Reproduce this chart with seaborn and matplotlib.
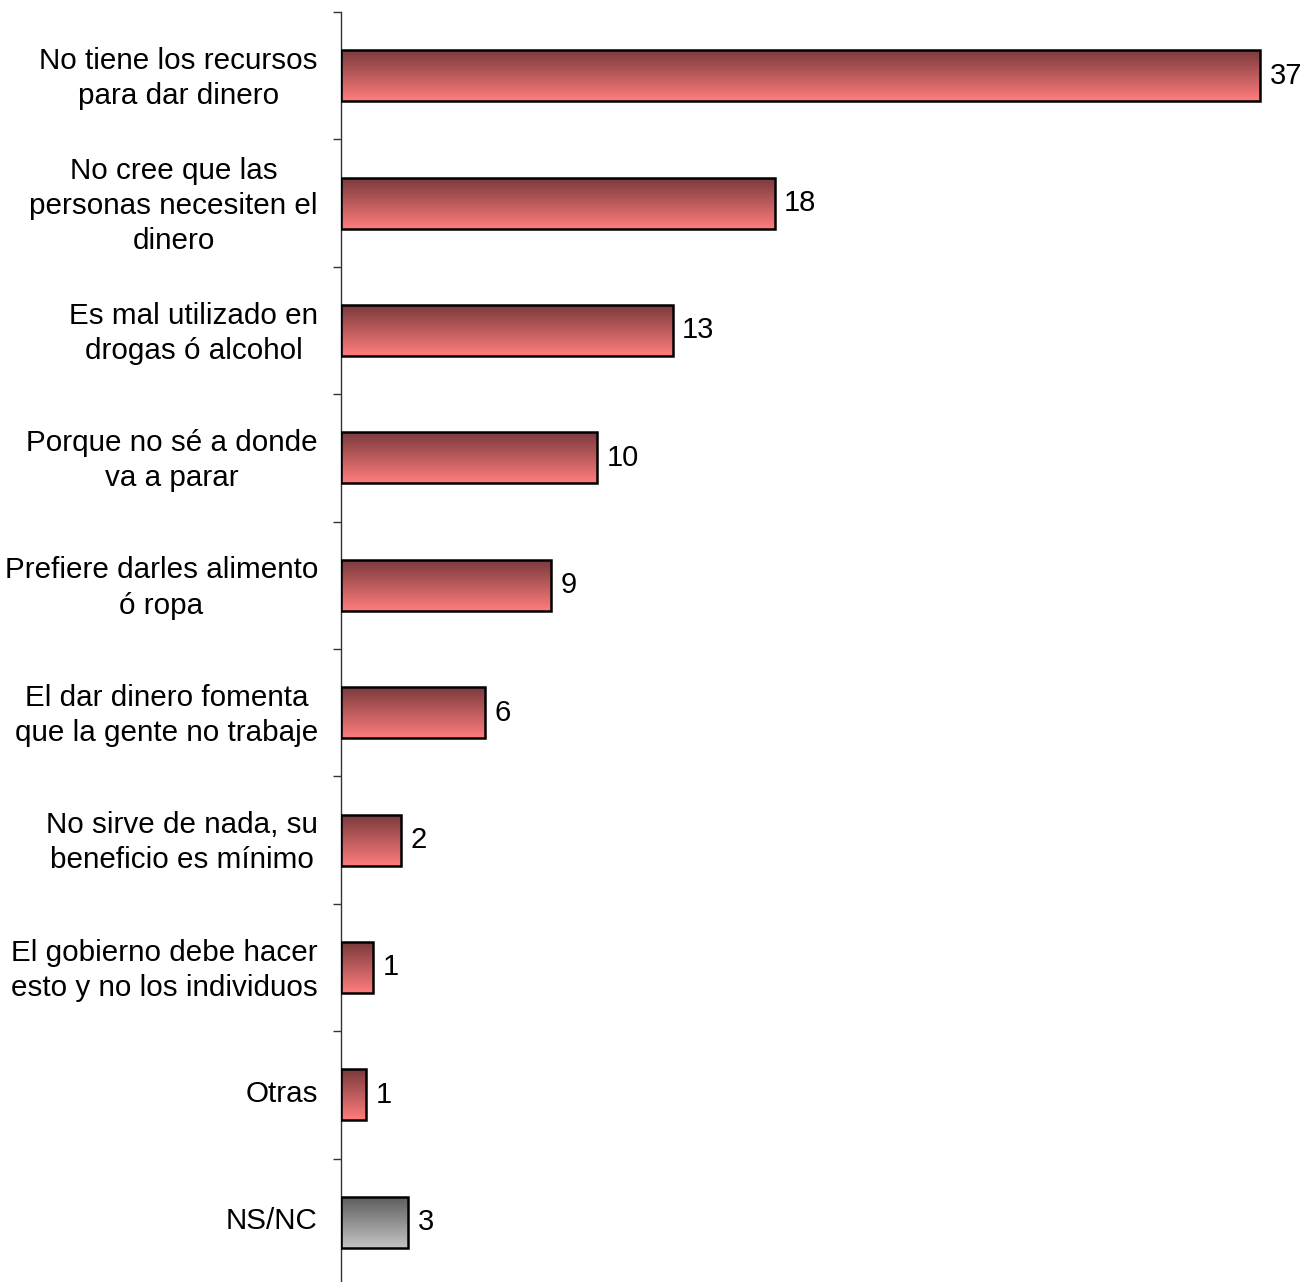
import numpy as np
import pandas as pd
import matplotlib
matplotlib.use('Agg')
import matplotlib.pyplot as plt
import seaborn as sns
from matplotlib.colors import LinearSegmentedColormap
from matplotlib.ticker import FixedLocator

# datos (porcentaje)
categorias = [
    'No tiene los recursos\npara dar dinero',
    'No cree que las\npersonas necesiten el\ndinero',
    'Es mal utilizado en\ndrogas ó alcohol',
    'Porque no sé a donde\nva a parar',
    'Prefiere darles alimento\nó ropa',
    'El dar dinero fomenta\nque la gente no trabaje',
    'No sirve de nada, su\nbeneficio es mínimo',
    'El gobierno debe hacer\nesto y no los individuos',
    'Otras',
    'NS/NC',
]
valores = [37.0, 17.45, 13.35, 10.3, 8.45, 5.8, 2.4, 1.3, 1.0, 2.7]
etiquetas = ['37', '18', '13', '10', '9', '6', '2', '1', '1', '3']
es_nsnc = [False] * 9 + [True]

df = pd.DataFrame({'cat': categorias, 'val': valores})

sns.set_style('white')
plt.rcParams['font.family'] = ['Liberation Sans', 'DejaVu Sans']

W, H = 1305, 1282
fig = plt.figure(figsize=(W / 100, H / 100), dpi=100)
# eje: x desde 341 px, cada unidad ~24.84 px; y de 12 px a 1286 px
ax = fig.add_axes([341 / W, -4 / H, 964 / W, 1274 / H])

sns.barplot(data=df, x='val', y='cat', orient='h', color='#f08080',
            width=0.4, ax=ax, edgecolor='black', linewidth=1.8)

cmap_rojo = LinearSegmentedColormap.from_list('rojo', ['#7a3a3c', '#ff7d7d'])
cmap_gris = LinearSegmentedColormap.from_list('gris', ['#5e5e5e', '#c4c4c4'])
grad = np.linspace(0, 1, 256).reshape(-1, 1)

for i, p in enumerate(ax.patches):
    x0, y0 = p.get_x(), p.get_y()
    w, h = p.get_width(), p.get_height()
    cm = cmap_gris if es_nsnc[i] else cmap_rojo
    im = ax.imshow(grad, cmap=cm, aspect='auto',
                   extent=[x0, x0 + w, y0 + h, y0], zorder=p.get_zorder() - 0.1)
    im.set_clip_path(p)
    p.set_facecolor('none')
    p.set_zorder(3)
    ax.text(x0 + w + 0.38, y0 + h / 2, etiquetas[i], va='center', ha='left',
            fontsize=21, color='black')

ax.set_xlim(0, 38.8)
ax.set_ylim(9.5, -0.5)
ax.set_xlabel('')
ax.set_ylabel('')
ax.set_xticks([])
# etiquetas un poco más arriba para centrarlas con las barras
ax.set_yticks(np.arange(len(categorias)) - 0.03, categorias)

for s in ['top', 'right', 'bottom']:
    ax.spines[s].set_visible(False)
ax.spines['left'].set_color('#333333')
ax.spines['left'].set_linewidth(1.0)

ax.yaxis.set_minor_locator(FixedLocator(np.arange(-0.5, 10, 1.0)))
ax.tick_params(axis='y', which='major', length=0, pad=23 * 0.72,
               labelsize=21.3, labelcolor='black')
ax.tick_params(axis='y', which='minor', length=6, width=1.0, color='#333333', direction='out', left=True)
for t in ax.get_yticklabels():
    t.set_multialignment('center')
    t.set_linespacing(1.32)

plt.savefig('out.png', dpi=100)
